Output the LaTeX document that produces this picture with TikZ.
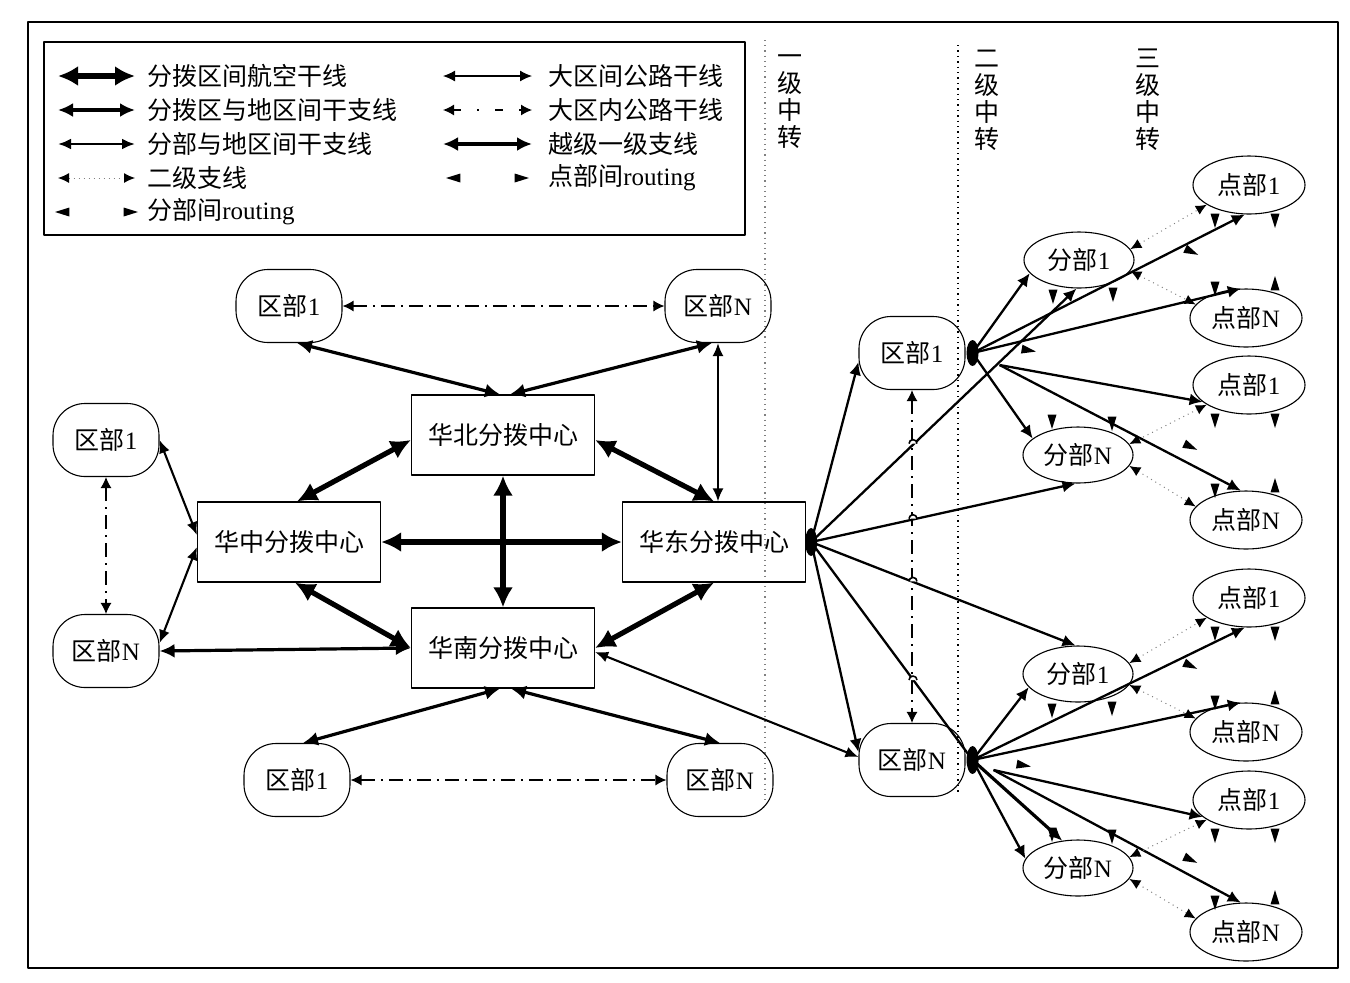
\documentclass[tikz,border=0pt]{standalone}
\usepackage{fontspec}
\setmainfont{Liberation Serif}
\newfontfamily\cjk{Noto Sans CJK SC}
\usetikzlibrary{arrows.meta,shapes.geometric,calc}
\newcommand\zh[1]{{\cjk #1}}
\newcommand\ftri[3]{\fill[shift={(#1,#2)}] ({#3}:9) -- ({#3+140}:7) -- ({#3-140}:7) -- cycle;}
\tikzset{
 lbl/.style={font=\fontsize{12.5pt}{14pt}\selectfont, inner sep=0pt},
 qu/.style={draw, line width=0.55pt, rounded corners=16pt, minimum width=53pt, minimum height=36.5pt, inner sep=0pt, lbl},
 hub/.style={draw, line width=0.6pt, minimum width=91.5pt, minimum height=40pt, inner sep=0pt, lbl},
 fb/.style={draw, ellipse, line width=0.55pt, minimum width=55pt, minimum height=28pt, inner sep=0pt, lbl},
 dp/.style={draw, ellipse, line width=0.55pt, minimum width=56pt, minimum height=29pt, inner sep=0pt, lbl},
 air/.style={line width=2.6pt, {Latex[length=10pt,width=10pt]}-{Latex[length=10pt,width=10pt]}},
 trunk/.style={line width=1.6pt, {Latex[length=7.5pt,width=7pt]}-{Latex[length=7.5pt,width=7pt]}},
 branch/.style={line width=1.05pt, {Latex[length=6.5pt,width=5.5pt]}-{Latex[length=6.5pt,width=5.5pt]}},
 fan/.style={line width=1.15pt, -{Latex[length=6.5pt,width=6pt]}},
 dashdot/.style={line width=0.6pt, dash pattern=on 7pt off 3pt on 1pt off 3pt, {Latex[length=5.5pt,width=5.5pt]}-{Latex[length=5.5pt,width=5.5pt]}},
 dots2/.style={draw=gray, line width=0.5pt, dotted, {Latex[length=5.5pt,width=5pt,color=black]}-{Latex[length=5.5pt,width=5pt,color=black]}},
 road/.style={line width=0.6pt, {Latex[length=6pt,width=5.5pt]}-{Latex[length=6pt,width=5.5pt]}},
}
\begin{document}
\begin{tikzpicture}[x=0.5pt, y=-0.5pt, line join=round]
\useasboundingbox (0,0) rectangle (1350,982);
% frames
\draw[line width=1pt] (28,22) rectangle (1338,968);
\draw[line width=0.8pt] (44,42) rectangle (745,235);
% level separators
\draw[gray, dotted, line width=0.6pt] (765,40) -- (765,800);
\draw[black, dotted, line width=0.7pt] (958,45) -- (958,795);
\node[lbl, align=center, font=\fontsize{12.5pt}{13.5pt}\selectfont\cjk] (v1) at (790,102) {一\\级\\中\\转};
\node[lbl, align=center, font=\fontsize{12.5pt}{13.5pt}\selectfont\cjk] (v2) at (987,100) {二\\级\\中\\转};
\node[lbl, align=center, font=\fontsize{12.5pt}{13.5pt}\selectfont\cjk] (v3) at (1148,100) {三\\级\\中\\转};

% legend
\coordinate (l1a) at (58,76);  \coordinate (l1b) at (135,76);
\coordinate (l2a) at (58,110); \coordinate (l2b) at (135,110);
\coordinate (l3a) at (58,144); \coordinate (l3b) at (135,144);
\coordinate (l4a) at (58,178); \coordinate (l4b) at (135,178);
\coordinate (r1a) at (443,76);  \coordinate (r1b) at (532,76);
\coordinate (r2a) at (443,110); \coordinate (r2b) at (532,110);
\coordinate (r3a) at (443,144); \coordinate (r3b) at (532,144);
\draw[air] (l1a) -- (l1b);
\draw[trunk, line width=1.9pt] (l2a) -- (l2b);
\draw[branch, line width=1.3pt] (l3a) -- (l3b);
\draw[dots2] (l4a) -- (l4b);
\ftri{64}{212}{180} \ftri{129}{212}{0}
\draw[road] (r1a) -- (r1b);
\draw[dashdot, dash pattern=on 4pt off 8pt on 1pt off 8pt] (r2a) -- (r2b);
\draw[trunk, line width=1.9pt] (r3a) -- (r3b);
\ftri{455}{178}{180} \ftri{520}{178}{0}
\node[lbl, anchor=west] (t1) at (147,76) {\zh{分拨区间航空干线}};
\node[lbl, anchor=west] (t2) at (147,110) {\zh{分拨区与地区间干支线}};
\node[lbl, anchor=west] (t3) at (147,144) {\zh{分部与地区间干支线}};
\node[lbl, anchor=west] (t4) at (147,178) {\zh{二级支线}};
\node[lbl, anchor=west] (t5) at (147,212) {\zh{分部间}routing};
\node[lbl, anchor=west] (s1) at (548,76) {\zh{大区间公路干线}};
\node[lbl, anchor=west] (s2) at (548,110) {\zh{大区内公路干线}};
\node[lbl, anchor=west] (s3) at (548,144) {\zh{越级一级支线}};
\node[lbl, anchor=west] (s4) at (548,178) {\zh{点部间}routing};

% left nodes
\node[qu] (qT1) at (289,306) {\zh{区部}1};
\node[qu] (qTN) at (718,306) {\zh{区部}N};
\node[hub] (hN) at (503,435) {\zh{华北分拨中心}};
\node[qu] (qL1) at (106,440) {\zh{区部}1};
\node[qu] (qLN) at (106,651) {\zh{区部}N};
\node[hub] (hC) at (289,542) {\zh{华中分拨中心}};
\node[hub] (hE) at (714,542) {\zh{华东分拨中心}};
\node[hub] (hS) at (503,648) {\zh{华南分拨中心}};
\node[qu] (qB1) at (297,780) {\zh{区部}1};
\node[qu] (qBN) at (720,780) {\zh{区部}N};
% right nodes
\node[qu] (qR1) at (912,353) {\zh{区部}1};
\node[qu] (qRN) at (912,760) {\zh{区部}N};
\node[fb] (fA) at (1079,260) {\zh{分部}1};
\node[fb] (fB) at (1078,455) {\zh{分部}N};
\node[fb] (fC) at (1078,674) {\zh{分部}1};
\node[fb] (fD) at (1078,868) {\zh{分部}N};
\node[dp] (pA1) at (1249,185) {\zh{点部}1};
\node[dp] (pAN) at (1246,318) {\zh{点部}N};
\node[dp] (pB1) at (1249,385) {\zh{点部}1};
\node[dp] (pBN) at (1246,520) {\zh{点部}N};
\node[dp] (pC1) at (1249,598) {\zh{点部}1};
\node[dp] (pCN) at (1246,732) {\zh{点部}N};
\node[dp] (pD1) at (1249,800) {\zh{点部}1};
\node[dp] (pDN) at (1246,932) {\zh{点部}N};

% left connectors
\draw[dashdot] (qT1.east) -- (qTN.west);
\draw[trunk] ([xshift=4pt]qT1.south) -- ([xshift=-1.5pt]hN.north);
\draw[trunk] ([xshift=-3pt]qTN.south) -- ([xshift=3.5pt]hN.north);
\draw[branch] (qTN.south) -- ([xshift=2pt]hE.north);
\draw[air] ([yshift=-2.5pt]hN.west) -- ([xshift=4pt]hC.north);
\draw[air] ([yshift=-2.5pt]hN.east) -- (hE.north);
\draw[air] (hN.south) -- (hS.north);
\draw[air] (hC.east) -- (hE.west);
\draw[air] ([xshift=3pt]hC.south) -- (hS.west);
\draw[air] (hE.south) -- (hS.east);
\draw[dashdot] (qL1.south) -- (qLN.north);
\draw[branch] (qL1.east) -- ([yshift=3.5pt]hC.west);
\draw[branch] ([yshift=4pt]qLN.east) -- ([yshift=-2.5pt]hC.west);
\draw[trunk] (qLN.east) -- (hS.west);
\draw[trunk] ([xshift=-1.5pt]hS.south) -- ([xshift=3pt]qB1.north);
\draw[trunk] ([xshift=4pt]hS.south) -- (qBN.north);
\draw[dashdot] (qB1.east) -- (qBN.west);
\draw[branch] ([yshift=-2pt]hS.east) -- ([yshift=1.5pt]qRN.west);

% right fan
\coordinate (eb) at ([xshift=2.5pt]hE.east);
\coordinate (b1) at ([xshift=3.5pt]qR1.east);
\coordinate (b1b) at ([xshift=17pt,yshift=-6pt]qR1.east);
\coordinate (bN) at ([xshift=3.5pt]qRN.east);
\coordinate (bNb) at ([xshift=14pt,yshift=-5pt]qRN.east);
\draw[dashdot] (qR1.south) -- (qRN.north);
\draw[fan] (eb) -- ([yshift=-4.5pt]qR1.west);
\draw[fan] (eb) -- (fA.265);
\draw[fan] (eb) -- (fB.265);
\draw[fan] (eb) -- (fC.95);
\draw[line width=1.15pt] (eb) -- (bN);
\draw[fan] (eb) -- ([yshift=4pt]qRN.west);
\foreach \hy in {443.6,518.7,581.4,680}{
  \draw[line width=0.8pt, fill=white] (909,\hy) arc[start angle=180, end angle=360, radius=4];
}
\draw[fan] (b1) -- (fA.195);
\draw[fan] (b1) -- (pA1.262);
\draw[fan] (b1) -- (pAN.100);
\draw[fan] (b1) -- (fB.160);
\draw[fan] (b1b) -- (pB1.200);
\draw[fan] (b1b) -- (pBN.100);
\draw[fan] (bN) -- (fC.195);
\draw[fan] (bN) -- (pC1.262);
\draw[fan] (bN) -- (pCN.100);
\draw[fan] (bN) -- (fD.170);
\draw[fan, line width=1.6pt] (bN) -- (fD.120);
\draw[fan] (bNb) -- (pD1.200);
\draw[fan] (bNb) -- (pDN.100);
% secondary dotted branches
\draw[dots2] (fA.12) -- (pA1.205);
\draw[dots2] (fA.-12) -- (pAN.165);
\draw[dots2] (fB.12) -- (pB1.205);
\draw[dots2] (fB.-12) -- (pBN.165);
\draw[dots2] (fC.12) -- (pC1.205);
\draw[dots2] (fC.-12) -- (pCN.165);
\draw[dots2] (fD.12) -- (pD1.205);
\draw[dots2] (fD.-12) -- (pDN.165);
% blobs
\fill (eb) ellipse [x radius=6, y radius=14];
\fill (b1) ellipse [x radius=6, y radius=13];
\fill (bN) ellipse [x radius=6, y radius=14];
% routing markers
\foreach \fx/\fy/\ax/\ay/\bx/\by/\s in {1079/260/1249/185/1246/318/1, 1078/455/1249/385/1246/520/-1, 1078/674/1249/598/1246/732/1, 1078/868/1249/800/1246/932/-1}{
  \ftri{\ax-34}{\ay+34}{90}
  \ftri{\ax+26}{\ay+34}{90}
  \ftri{\bx-31}{\by-31}{90}
  \ftri{\bx+29}{\by-33}{-90}
  \ftri{\fx+111}{\fy-9}{25}
  \ftri{\fx+34}{\fy+\s*33}{90}
  \ftri{\fx-26}{\fy+\s*35}{90}
}
\ftri{1027}{350}{10}
\ftri{1022}{765}{10}
\end{tikzpicture}
\end{document}
